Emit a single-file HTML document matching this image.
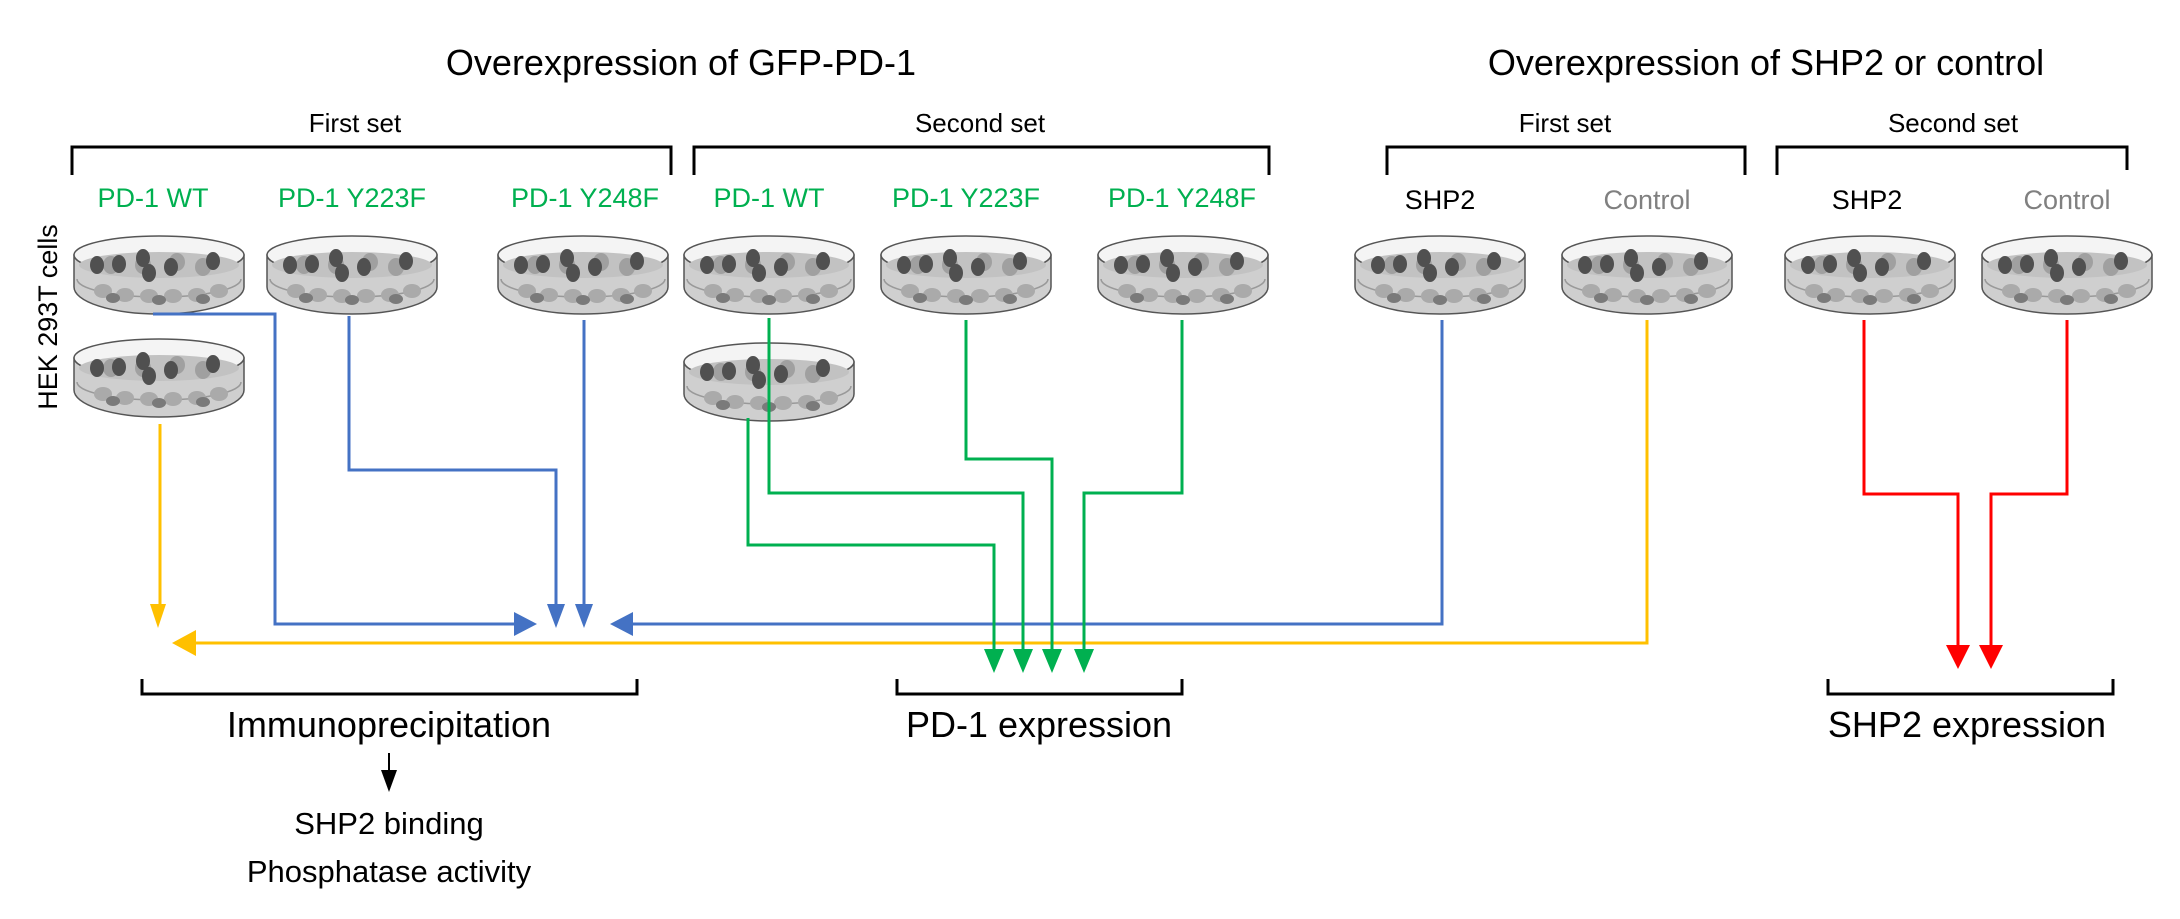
<!DOCTYPE html>
<html><head><meta charset="utf-8">
<style>
html,body{margin:0;padding:0;background:#fff;}
body{width:2180px;height:914px;overflow:hidden;}
svg text{font-family:"Liberation Sans",sans-serif;}
</style></head>
<body>
<svg width="2180" height="914" viewBox="0 0 2180 914" xmlns="http://www.w3.org/2000/svg">
<defs>
<g id="dish">
  <path d="M1,20 L1,52 A85,27 0 0 0 171,52 L171,20 Z" fill="#cfcfcf" stroke="#555" stroke-width="1.5"/>
  <ellipse cx="86" cy="20" rx="85" ry="19" fill="#f4f4f4" stroke="#555" stroke-width="1.5"/>
  <ellipse cx="86" cy="30" rx="80" ry="13" fill="#c2c2c2"/>
  <path d="M4,44 A82,18 0 0 0 168,44" fill="none" stroke="#999" stroke-width="1.5"/>
  <g fill="#aaa">
    <ellipse cx="30" cy="56" rx="9" ry="7"/><ellipse cx="52" cy="60" rx="9" ry="7"/><ellipse cx="76" cy="61" rx="9" ry="7"/>
    <ellipse cx="100" cy="61" rx="9" ry="7"/><ellipse cx="124" cy="60" rx="9" ry="7"/><ellipse cx="146" cy="56" rx="9" ry="7"/>
  </g>
  <g fill="#7a7a7a">
    <ellipse cx="40" cy="63" rx="7" ry="5"/><ellipse cx="86" cy="65" rx="7" ry="5"/><ellipse cx="130" cy="64" rx="7" ry="5"/>
  </g>
  <g fill="#a0a0a0">
    <ellipse cx="38" cy="30" rx="8" ry="9"/><ellipse cx="70" cy="30" rx="8" ry="9"/><ellipse cx="104" cy="27" rx="8" ry="9"/><ellipse cx="130" cy="32" rx="8" ry="9"/>
  </g>
  <g fill="#505050">
    <ellipse cx="24" cy="30" rx="7" ry="9"/><ellipse cx="46" cy="29" rx="7" ry="9"/><ellipse cx="70" cy="23" rx="7" ry="9"/>
    <ellipse cx="76" cy="38" rx="7" ry="9"/><ellipse cx="98" cy="32" rx="7" ry="9"/><ellipse cx="140" cy="26" rx="7" ry="9"/>
  </g>
</g>
</defs>

<text x="681" y="75" font-size="36" text-anchor="middle">Overexpression of GFP-PD-1</text>
<text x="1766" y="75" font-size="36" text-anchor="middle">Overexpression of SHP2 or control</text>

<g font-size="26" text-anchor="middle">
<text x="355" y="132">First set</text>
<text x="980" y="132">Second set</text>
<text x="1565" y="132">First set</text>
<text x="1953" y="132">Second set</text>
</g>
<g fill="none" stroke="#000" stroke-width="3">
<path d="M72,175 V147 H671 V175"/>
<path d="M694,175 V147 H1269 V175"/>
<path d="M1387,175 V147 H1745 V175"/>
<path d="M1777,175 V147 H2127 V170"/>
</g>

<g font-size="27" text-anchor="middle" fill="#00b050">
<text x="153" y="207">PD-1 WT</text>
<text x="352" y="207">PD-1 Y223F</text>
<text x="585" y="207">PD-1 Y248F</text>
<text x="769" y="207">PD-1 WT</text>
<text x="966" y="207">PD-1 Y223F</text>
<text x="1182" y="207">PD-1 Y248F</text>
</g>
<g font-size="27" text-anchor="middle">
<text x="1440" y="209" fill="#000">SHP2</text>
<text x="1647" y="209" fill="#808080">Control</text>
<text x="1867" y="209" fill="#000">SHP2</text>
<text x="2067" y="209" fill="#808080">Control</text>
</g>

<text transform="translate(57,317) rotate(-90)" font-size="27" text-anchor="middle">HEK 293T cells</text>

<use href="#dish" x="73" y="235"/>
<use href="#dish" x="266" y="235"/>
<use href="#dish" x="497" y="235"/>
<use href="#dish" x="683" y="235"/>
<use href="#dish" x="880" y="235"/>
<use href="#dish" x="1097" y="235"/>
<use href="#dish" x="1354" y="235"/>
<use href="#dish" x="1561" y="235"/>
<use href="#dish" x="1784" y="235"/>
<use href="#dish" x="1981" y="235"/>
<use href="#dish" x="73" y="338"/>
<use href="#dish" x="683" y="342"/>

<g fill="none" stroke="#4472c4" stroke-width="3">
<path d="M153,314 H275 V624 H518"/>
<path d="M349,316 V470 H556 V608"/>
<path d="M584,320 V608"/>
<path d="M1442,320 V624 H628"/>
</g>
<g fill="#4472c4">
<polygon points="537,624 514,612 514,636"/>
<polygon points="556,628 547,604 565,604"/>
<polygon points="584,628 575,604 593,604"/>
<polygon points="610,624 633,612 633,636"/>
</g>

<g fill="none" stroke="#ffc000" stroke-width="3">
<path d="M160,424 V606"/>
<path d="M1647,320 V643 H190"/>
</g>
<g fill="#ffc000">
<polygon points="158,628 150,604 166,604"/>
<polygon points="172,643 196,630 196,656"/>
</g>

<g fill="none" stroke="#00b050" stroke-width="3">
<path d="M748,418 V545 H994 V652"/>
<path d="M769,318 V493 H1023 V652"/>
<path d="M966,320 V459 H1052 V652"/>
<path d="M1182,320 V493 H1084 V652"/>
</g>
<g fill="#00b050">
<polygon points="994,673 984,649 1004,649"/>
<polygon points="1023,673 1013,649 1033,649"/>
<polygon points="1052,673 1042,649 1062,649"/>
<polygon points="1084,673 1074,649 1094,649"/>
</g>

<g fill="none" stroke="#ff0000" stroke-width="3">
<path d="M1864,320 V494 H1958 V648"/>
<path d="M2067,320 V494 H1991 V648"/>
</g>
<g fill="#ff0000">
<polygon points="1958,669 1946,645 1970,645"/>
<polygon points="1991,669 1979,645 2003,645"/>
</g>

<g fill="none" stroke="#000" stroke-width="3">
<path d="M142,679 V694 H637 V679"/>
<path d="M897,679 V694 H1182 V679"/>
<path d="M1828,679 V694 H2113 V679"/>
</g>
<g font-size="36" text-anchor="middle">
<text x="389" y="737">Immunoprecipitation</text>
<text x="1039" y="737">PD-1 expression</text>
<text x="1967" y="737">SHP2 expression</text>
</g>
<g font-size="31" text-anchor="middle">
<text x="389" y="834">SHP2 binding</text>
<text x="389" y="882">Phosphatase activity</text>
</g>
<path d="M389,753 V775" stroke="#000" stroke-width="2"/>
<polygon points="389,792 381,770 397,770" fill="#000"/>
</svg>
</body></html>
